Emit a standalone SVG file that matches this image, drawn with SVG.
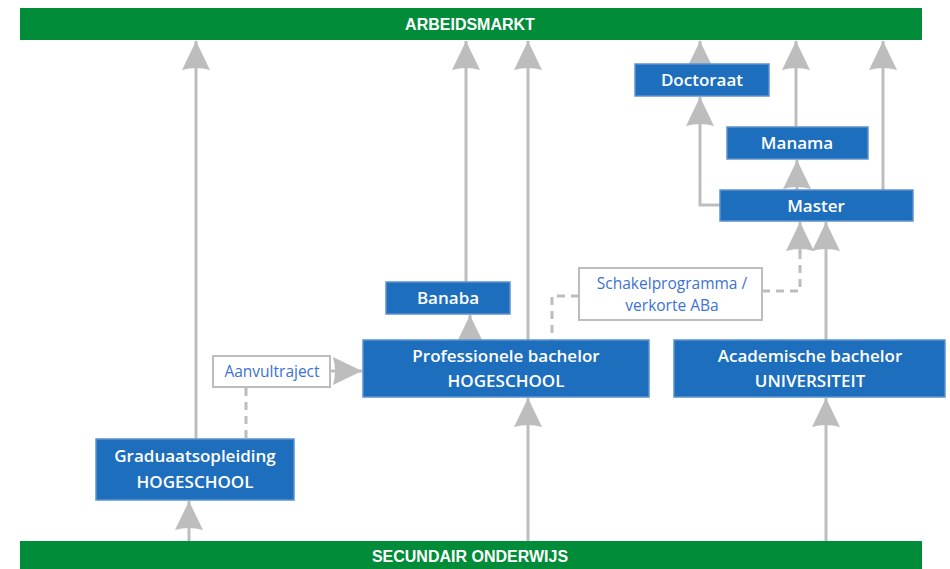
<svg xmlns="http://www.w3.org/2000/svg" width="950" height="569" viewBox="0 0 950 569">
<style>
.bar{fill:#008C39;}
.bt{font-family:"Liberation Sans",Arial,sans-serif;font-size:16px;font-weight:bold;fill:#ffffff;text-anchor:middle;}
.node{fill:#1E6EBE;stroke:#5D93CE;stroke-width:1.5;}
.nt{font-family:"Open Sans","Liberation Sans",sans-serif;font-size:17px;font-weight:600;fill:#ffffff;text-anchor:middle;}
.wbox{fill:#ffffff;stroke:#BDBDBD;stroke-width:2;}
.wt{font-family:"Open Sans","Liberation Sans",sans-serif;font-size:15.5px;fill:#3B72D6;text-anchor:middle;}
.c{fill:none;stroke:#BDBDBD;stroke-width:3;}
.d{fill:none;stroke:#BDBDBD;stroke-width:3;stroke-dasharray:8,6;}
</style>
<defs>
<marker id="ah" markerUnits="userSpaceOnUse" markerWidth="32" markerHeight="34" viewBox="-30 -16 32 32" refX="0" refY="0" orient="auto">
<path d="M0,0 L-29,-14 Q-25,0 -29,14 Z" fill="#BDBDBD"/>
</marker>
</defs>
<rect width="950" height="569" fill="#ffffff"/>
<g id="arbeidsmarkt">
<rect class="bar" x="20" y="8" width="902" height="32"/>
<text class="bt" x="470" y="30">ARBEIDSMARKT</text>
</g>
<g id="secundair">
<rect class="bar" x="20" y="541" width="902" height="30"/>
<text class="bt" x="470" y="562">SECUNDAIR ONDERWIJS</text>
</g>
<g id="connectors">
<path class="c" d="M196,439 V41" marker-end="url(#ah)"/>
<path class="c" d="M189,541 V501" marker-end="url(#ah)"/>
<path class="c" d="M466,282 V41" marker-end="url(#ah)"/>
<path class="c" d="M528,340 V41" marker-end="url(#ah)"/>
<path class="c" d="M528,541 V398" marker-end="url(#ah)"/>
<path class="c" d="M470,340 V315" marker-end="url(#ah)"/>
<path class="c" d="M330,371 H362" marker-end="url(#ah)"/>
<path class="d" d="M246,388 V439"/>
<path class="d" d="M579,296 H552 V340"/>
<path class="d" d="M762,291 H800 V250"/>
<path class="c" d="M800,252 V222" marker-end="url(#ah)"/>
<path class="c" d="M826,541 V398" marker-end="url(#ah)"/>
<path class="c" d="M826,340 V222" marker-end="url(#ah)"/>
<path class="c" d="M720,205 H700 V97" marker-end="url(#ah)"/>
<path class="c" d="M700,64 V41" marker-end="url(#ah)"/>
<path class="c" d="M797,190 V160" marker-end="url(#ah)"/>
<path class="c" d="M796,127 V41" marker-end="url(#ah)"/>
<path class="c" d="M883,190 V41" marker-end="url(#ah)"/>
</g>
<g id="doctoraat">
<rect class="node" x="635" y="64" width="134" height="32"/>
<text class="nt" x="702" y="86">Doctoraat</text>
</g>
<g id="manama">
<rect class="node" x="727" y="127" width="141" height="32"/>
<text class="nt" x="797" y="149">Manama</text>
</g>
<g id="master">
<rect class="node" x="720" y="190" width="193" height="31"/>
<text class="nt" x="816" y="212">Master</text>
</g>
<g id="schakel">
<rect class="wbox" x="579" y="268" width="183" height="52"/>
<text class="wt" x="672" y="289">Schakelprogramma /</text>
<text class="wt" x="672" y="311">verkorte ABa</text>
</g>
<g id="banaba">
<rect class="node" x="386" y="282" width="124" height="32"/>
<text class="nt" x="448" y="304">Banaba</text>
</g>
<g id="profbachelor">
<rect class="node" x="363" y="340" width="286" height="57"/>
<text class="nt" x="506" y="362">Professionele bachelor</text>
<text class="nt" x="506" y="387">HOGESCHOOL</text>
</g>
<g id="acbachelor">
<rect class="node" x="674" y="340" width="271" height="57"/>
<text class="nt" x="810" y="362">Academische bachelor</text>
<text class="nt" x="810" y="387">UNIVERSITEIT</text>
</g>
<g id="aanvul">
<rect class="wbox" x="213" y="356" width="117" height="31"/>
<text class="wt" x="272" y="377">Aanvultraject</text>
</g>
<g id="graduaat">
<rect class="node" x="96" y="439" width="198" height="61"/>
<text class="nt" x="195" y="462">Graduaatsopleiding</text>
<text class="nt" x="195" y="488">HOGESCHOOL</text>
</g>
</svg>
